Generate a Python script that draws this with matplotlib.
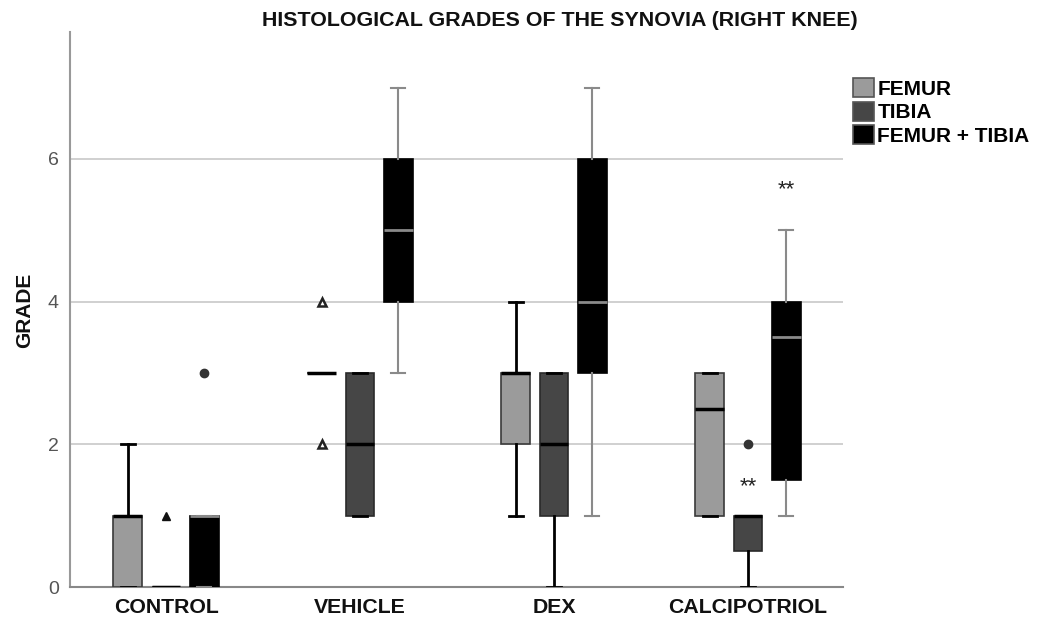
import matplotlib
matplotlib.use("Agg")
import matplotlib.pyplot as plt
from matplotlib.patches import Patch

plt.rcParams['font.family'] = ['Liberation Sans', 'DejaVu Sans']

groups = ["CONTROL", "VEHICLE", "DEX", "CALCIPOTRIOL"]
series = ["FEMUR", "TIBIA", "FEMUR + TIBIA"]

# box statistics per series, one value per group
femur_q1 = [0, 3, 2, 1]
femur_med = [1, 3, 3, 2.5]
femur_q3 = [1, 3, 3, 3]
femur_lo = [0, 3, 1, 1]
femur_hi = [2, 3, 4, 3]
femur_out = [[], [2, 4], [], []]

tibia_q1 = [0, 1, 1, 0.5]
tibia_med = [0, 2, 2, 1]
tibia_q3 = [0, 3, 3, 1]
tibia_lo = [0, 1, 0, 0]
tibia_hi = [0, 3, 3, 1]
tibia_out = [[1], [], [], [2]]

ft_q1 = [0, 4, 3, 1.5]
ft_med = [1, 5, 4, 3.5]
ft_q3 = [1, 6, 6, 4]
ft_lo = [0, 3, 1, 1]
ft_hi = [1, 7, 7, 5]
ft_out = [[3], [], [], []]

# significance marks: (group index, series index, y)
sig_group = [3, 3]
sig_series = [1, 2]
sig_y = [1.4, 5.57]
sig_text = ["**", "**"]

fig = plt.figure(figsize=(10.39, 6.22), dpi=100)
ax = fig.add_axes([70/1039, 35/622, (843-70)/1039, (587-32)/622])

all_stats = [
    (femur_q1, femur_med, femur_q3, femur_lo, femur_hi, femur_out),
    (tibia_q1, tibia_med, tibia_q3, tibia_lo, tibia_hi, tibia_out),
    (ft_q1, ft_med, ft_q3, ft_lo, ft_hi, ft_out),
]
face = ["#9b9b9b", "#464646", "#000000"]
edge = ["#3a3a3a", "#2a2a2a", "#000000"]
medc = ["#000000", "#000000", "#8a8a8a"]
whc = ["#000000", "#000000", "#8a8a8a"]
whw = [2.0, 2.0, 1.5]
offsets = [-0.197, 0.0, 0.197]
width = 0.148

for si, (q1, med, q3, lo, hi, out) in enumerate(all_stats):
    for gi in range(len(groups)):
        st = [dict(q1=q1[gi], med=med[gi], q3=q3[gi], whislo=lo[gi],
                   whishi=hi[gi], fliers=[])]
        ax.bxp(st, positions=[gi + offsets[si]], widths=width,
               patch_artist=True, showfliers=False, manage_ticks=False,
               boxprops=dict(facecolor=face[si], edgecolor=edge[si], linewidth=1.2),
               medianprops=dict(color=medc[si], linewidth=2.5 if si < 2 else 2.0),
               whiskerprops=dict(color=whc[si], linewidth=whw[si]),
               capprops=dict(color=whc[si], linewidth=whw[si]),
               zorder=3)
        for v in out[gi]:
            x = gi + offsets[si]
            if si == 0:
                ax.plot(x, v, marker='^', ms=6, mfc='white', mec='#222222', mew=1.8, zorder=4)
            elif si == 1 and gi == 0:
                ax.plot(x, v, marker='^', ms=6, mfc='#111111', mec='#111111', zorder=4)
            else:
                ax.plot(x, v, marker='o', ms=6, mfc='#333333', mec='#333333', zorder=4)

for g, s, y, t in zip(sig_group, sig_series, sig_y, sig_text):
    ax.text(g + offsets[s], y, t, ha='center', va='center', fontsize=16,
            color='#222222', zorder=5)

ax.set_xlim(-0.495, 3.49)
ax.set_ylim(0, 7.78)
ax.set_yticks([0, 2, 4, 6])
ax.set_yticklabels(["0", "2", "4", "6"])
ax.yaxis.grid(True, color='#c8c8c8', linewidth=1.2, zorder=0)
ax.set_axisbelow(True)
ax.set_xticks(range(len(groups)))
ax.set_xticklabels(groups, fontsize=15.3, fontweight='bold', color='#111111')
ax.tick_params(axis='x', length=0, pad=8)
ax.tick_params(axis='y', length=0, labelsize=14, labelcolor='#555555', pad=8)
for sp in ['top', 'right']:
    ax.spines[sp].set_visible(False)
ax.spines['left'].set_color('#999999')
ax.spines['left'].set_linewidth(1.5)
ax.spines['bottom'].set_color('#888888')
ax.spines['bottom'].set_linewidth(1.5)

fig.text(25/1039, 1 - 310/622, "GRADE", rotation=90, ha='center', va='center',
         fontsize=15, fontweight='bold', color='#111111')
fig.text(560/1039, 1 - 21/622, "HISTOLOGICAL GRADES OF THE SYNOVIA (RIGHT KNEE)",
         ha='center', va='center', fontsize=15.4, fontweight='bold', color='#111111')

handles = [Patch(facecolor=face[i], edgecolor='#555555', linewidth=1.2) for i in range(3)]
fig.legend(handles, series, loc='upper left', bbox_to_anchor=(845/1039, 1 - 70/622),
           frameon=False, prop=dict(size=15, weight='bold'), handlelength=1.0,
           handleheight=1.0, handletextpad=0.15, labelspacing=0.15, borderaxespad=0)

fig.savefig("out.png", dpi=100, facecolor='white')
